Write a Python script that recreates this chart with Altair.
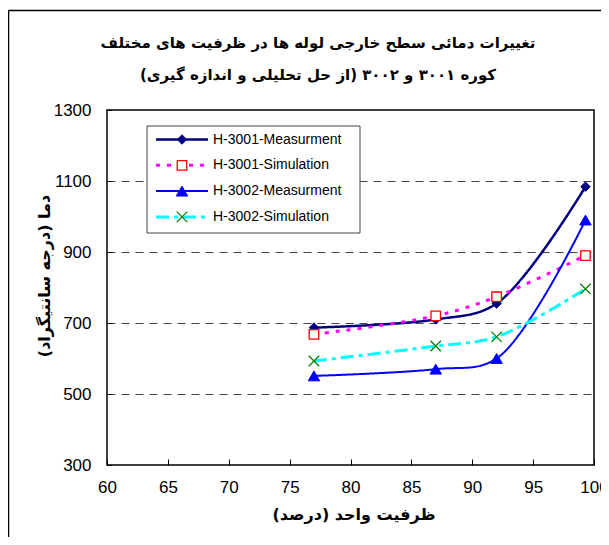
import altair as alt
import pandas as pd

# ---- data ----
series = ["H-3001-Measurment", "H-3001-Simulation", "H-3002-Measurment", "H-3002-Simulation"]
capacity = [77, 87, 92, 99.3]
h3001_meas = [687, 710, 755, 1084]
h3001_sim = [668, 720, 774, 890]
h3002_meas = [551, 570, 600, 990]
h3002_sim = [593, 635, 661, 796]
x_ticks = [60, 65, 70, 75, 80, 85, 90, 95, 100]
y_ticks = [300, 500, 700, 900, 1100, 1300]

title1 = "\u200fتغییرات دمائی سطح خارجی لوله ها در ظرفیت های مختلف\u200f"
title2 = "\u200fکوره ۳۰۰۱ و ۳۰۰۲  (از حل تحلیلی و اندازه گیری)\u200f"
x_title = "\u200fظرفیت واحد (درصد)\u200f"
y_title = "\u200fدما (درجه سانتیگراد)\u200f"

values = [h3001_meas, h3001_sim, h3002_meas, h3002_sim]

W, H = 487, 355
FONT = "Liberation Sans"
AFONT = "DejaVu Sans"

styles = {
    "H-3001-Measurment": dict(line="#000080", width=2.5, dash=[1, 0], shape="diamond",
                              fill="#000080", stroke="#000080", size=90, sw=1),
    "H-3001-Simulation": dict(line="#FF00FF", width=3, dash=[4, 7], shape="square",
                              fill="white", stroke="#FF0000", size=90, sw=1.3),
    "H-3002-Measurment": dict(line="#0000FF", width=2, dash=[1, 0], shape="triangle-up",
                              fill="#0000FF", stroke="#0000FF", size=130, sw=1),
    "H-3002-Simulation": dict(line="#00FFFF", width=3, dash=[13, 5, 4, 5],
                              shape="M-1,-1L1,1M-1,1L1,-1",
                              fill="transparent", stroke="#008000", size=110, sw=1.3),
}

x_enc = alt.X("capacity:Q",
              scale=alt.Scale(domain=[60, 100], nice=False, zero=False),
              axis=alt.Axis(values=x_ticks, grid=False, domain=False, ticks=True,
                            tickSize=6, offset=-6, tickColor="black", labelPadding=14,
                            labelFont=FONT, labelFontSize=17, labelColor="black",
                            title=None, labelFlush=False, format="d"))
y_enc = alt.Y("temp:Q",
              scale=alt.Scale(domain=[300, 1300], nice=False, zero=False),
              axis=alt.Axis(values=y_ticks, grid=True, gridDash=[8, 6], gridColor="#444",
                            domain=False, ticks=True, tickSize=5, offset=-5,
                            tickColor="black", labelPadding=16, format="d",
                            labelFont=FONT, labelFontSize=17, labelColor="black",
                            title=None))

layers = []
for name, vals in zip(series, values):
    st = styles[name]
    df = pd.DataFrame({"capacity": capacity, "temp": vals, "series": name})
    base = alt.Chart(df)
    layers.append(base.mark_line(color=st["line"], strokeWidth=st["width"],
                                 strokeDash=st["dash"], interpolate="catmull-rom")
                  .encode(x=x_enc, y=y_enc))
for name, vals in zip(series, values):
    st = styles[name]
    df = pd.DataFrame({"capacity": capacity, "temp": vals, "series": name})
    layers.append(alt.Chart(df).mark_point(shape=st["shape"], fill=st["fill"], stroke=st["stroke"],
                                          strokeWidth=st["sw"], size=st["size"], opacity=1,
                                          fillOpacity=1)
                  .encode(x=x_enc, y=y_enc))

one = pd.DataFrame({"k": [0]})

# legend box
layers.append(alt.Chart(one).mark_rect(fill="white", stroke="#444", strokeWidth=1)
              .encode(x=alt.value(40), x2=alt.value(253), y=alt.value(16), y2=alt.value(123)))
leg = pd.DataFrame({"series": series})
for i, name in enumerate(series):
    st = styles[name]
    yy = 29.5 + i * 25.8
    layers.append(alt.Chart(one).mark_rule(color=st["line"], strokeWidth=st["width"],
                                           strokeDash=st["dash"])
                  .encode(x=alt.value(49), x2=alt.value(101), y=alt.value(yy)))
    layers.append(alt.Chart(one).mark_point(shape=st["shape"], fill=st["fill"], stroke=st["stroke"],
                                            strokeWidth=st["sw"], size=st["size"], opacity=1,
                                            fillOpacity=1)
                  .encode(x=alt.value(75), y=alt.value(yy)))
    layers.append(alt.Chart(leg.iloc[[i]]).mark_text(font=FONT, fontSize=14, align="left",
                                                      baseline="middle", color="black")
                  .encode(x=alt.value(106), y=alt.value(yy), text="series:N"))

# titles
def txt(t, x, y, angle=0, size=17):
    return alt.Chart(pd.DataFrame({"t": [t]})).mark_text(
        font=AFONT, fontWeight="bold", fontSize=size, align="center", baseline="middle",
        color="black", angle=angle).encode(x=alt.value(x), y=alt.value(y), text="t:N")

layers.append(txt(title1, 211, -67, size=15))
layers.append(txt(title2, 211, -35, size=15))
layers.append(txt(x_title, 247, 405, size=16))
layers.append(txt(y_title, -62, 166, angle=270, size=16))

# outer frame
layers.append(alt.Chart(one).mark_rule(color="black", strokeWidth=1.5)
              .encode(x=alt.value(-98.5), x2=alt.value(520), y=alt.value(-99.5)))
layers.append(alt.Chart(one).mark_rule(color="black", strokeWidth=1.5)
              .encode(x=alt.value(-98.5), y=alt.value(-99.5), y2=alt.value(500)))

chart = alt.layer(*layers).properties(
    width=W, height=H,
    padding={"left": 99, "top": 102, "right": 7, "bottom": 72},
    autosize=alt.AutoSizeParams(type="none"),
    background="white",
).configure_view(stroke="black", strokeWidth=1.5)

chart.save("out.html", embed_options={"renderer": "svg", "actions": False})
